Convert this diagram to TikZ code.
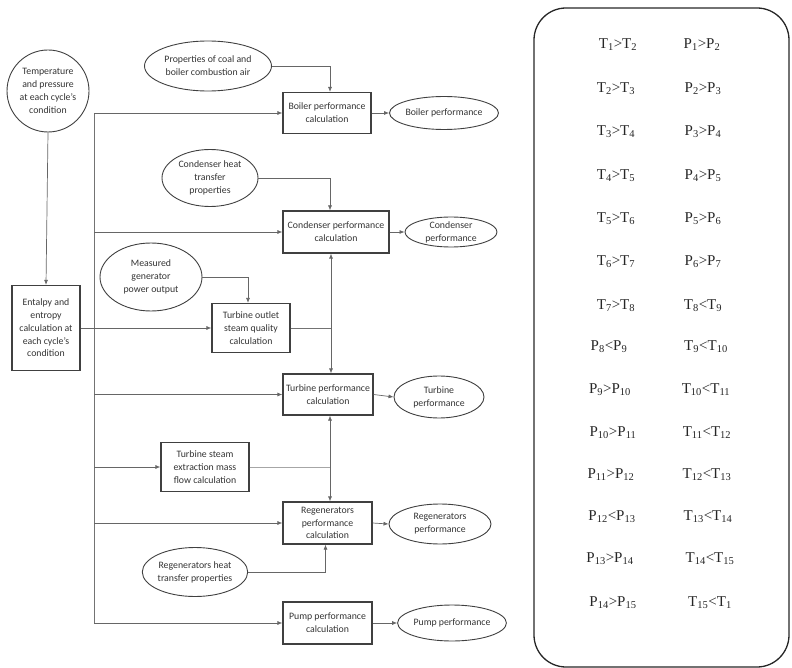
\documentclass[tikz,border=0pt]{standalone}
\usepackage{fontspec}
\setmainfont{Liberation Serif}
\newfontfamily\labfont{Carlito}
\usetikzlibrary{arrows.meta,shapes.geometric}
\begin{document}
\begin{tikzpicture}[x=1pt,y=-1pt,
  lab/.style={font=\labfont\fontsize{9.8}{12.8}\selectfont, text=black!80, align=center, inner sep=1pt},
  boxn/.style={lab, draw=black!75, line width=1.2pt},
  ell/.style={lab, draw=black!75, line width=0.9pt, ellipse, inner sep=0pt},
  arr/.style={draw=black!60, line width=0.7pt, -{Latex[length=5pt,width=4pt]}},
  arrb/.style={draw=black!60, line width=0.7pt, {Latex[length=5pt,width=4pt]}-{Latex[length=5pt,width=4pt]}},
  ln/.style={draw=black!55, line width=0.7pt},
  cmp/.style={font=\fontsize{15}{18}\selectfont, text=black!85, inner sep=0pt}
]
\useasboundingbox (0,0) rectangle (792,668);

% left part
\node[lab, draw=black!75, line width=0.9pt, circle, minimum size=82pt] (tp) at (48,91)
  {Temperature\\and pressure\\at each cycle’s\\condition};
\node[boxn, minimum width=68pt, minimum height=85pt] (ent) at (46,328)
  {Entalpy and\\entropy\\calculation at\\each cycle’s\\condition};

\node[ell, minimum width=127pt, minimum height=50pt] (coal) at (208,66)
  {Properties of coal and\\boiler combustion air};
\node[boxn, minimum width=88pt, minimum height=41pt] (boil) at (327,113)
  {Boiler performance\\calculation};
\node[ell, minimum width=98pt, minimum height=33pt] (boilp) at (444,113)
  {Boiler performance};

\node[ell, minimum width=96pt, minimum height=57pt] (cheat) at (210,178)
  {Condenser heat\\transfer\\properties};
\node[boxn, minimum width=106pt, minimum height=42pt] (cond) at (336,232)
  {Condenser performance\\calculation};
\node[ell, minimum width=92pt, minimum height=30pt] (condp) at (451,232)
  {Condenser\\performance};

\node[ell, minimum width=102pt, minimum height=68pt] (gen) at (151,277)
  {Measured\\generator\\power output};
\node[boxn, minimum width=78pt, minimum height=49pt] (tout) at (251,328)
  {Turbine outlet\\steam quality\\calculation};

\node[boxn, minimum width=90pt, minimum height=41pt] (turb) at (328,394.5)
  {Turbine performance\\calculation};
\node[ell, minimum width=90pt, minimum height=42pt] (turbp) at (439,397)
  {Turbine\\performance};

\node[boxn, minimum width=88pt, minimum height=49pt] (ext) at (205,467)
  {Turbine steam\\extraction mass\\flow calculation};

\node[boxn, minimum width=89pt, minimum height=42pt] (reg) at (327.5,523)
  {Regenerators\\performance\\calculation};
\node[ell, minimum width=102pt, minimum height=40pt] (regp) at (440,524)
  {Regenerators\\performance};
\node[ell, minimum width=100pt, minimum height=49pt] (rheat) at (195,572)
  {Regenerators heat\\transfer properties};

\node[boxn, minimum width=89pt, minimum height=42pt] (pump) at (327.5,623)
  {Pump performance\\calculation};
\node[ell, minimum width=102pt, minimum height=36pt] (pumpp) at (452,623)
  {Pump performance};

% bus and helper coordinates
\coordinate (bus) at (94,0);
\coordinate (vx) at (331,0);
\coordinate (bt) at (94,113);
\coordinate (bb) at (94,623);

\draw[arr] (tp.south) -- (ent.north);
\draw[ln] (bt) -- (bb);
\draw[arr] (bt) -- (boil.west);
\draw[arr] (cond.west -| bus) -- (cond.west);
\draw[arr] (turb.west -| bus) -- (turb.west);
\draw[arr] (ext.west -| bus) -- (ext.west);
\draw[arr] (reg.west -| bus) -- (reg.west);
\draw[arr] (bb) -- (pump.west);
\draw[arr] (ent.east) -- (tout.west);

\draw[arr] (coal.east) -| ([xshift=3pt]boil.north);
\draw[arr] (boil.east) -- (boilp.west);
\draw[arr] (cheat.east) -| ([xshift=-6pt]cond.north);
\draw[arr] (cond.east) -- (condp.west);
\draw[arr] (gen.east) -| ([xshift=-3pt]tout.north);
\draw[arrb] (cond.south -| vx) -- (turb.north -| vx);
\draw[ln] (tout.east) -- (tout.east -| vx);
\draw[arr] (turb.east) -- (turbp.west);
\draw[arrb] ([xshift=-1pt]turb.south -| vx) -- ([xshift=-1pt]reg.north -| vx);
\draw[ln, draw=black!35] (ext.east) -- ([xshift=-1pt]ext.east -| vx);
\draw[arr] (reg.east) -- (regp.west);
\draw[arr] (rheat.east) -| ([xshift=-2pt]reg.south);
\draw[arr] (pump.east) -- (pumpp.west);

% right panel
\node[draw=black!85, line width=1.3pt, rounded corners=32pt, minimum width=255pt, minimum height=659pt, inner sep=0pt] (panel) at (661.5,337.5) {};

\node[cmp] (a1) at (618,45) {T\textsubscript{1}>T\textsubscript{2}};
\node[cmp] (b1) at (702,45) {P\textsubscript{1}>P\textsubscript{2}};
\node[cmp] (a2) at (616,89) {T\textsubscript{2}>T\textsubscript{3}};
\node[cmp] (b2) at (703,89) {P\textsubscript{2}>P\textsubscript{3}};
\node[cmp] (a3) at (616,132) {T\textsubscript{3}>T\textsubscript{4}};
\node[cmp] (b3) at (703,132) {P\textsubscript{3}>P\textsubscript{4}};
\node[cmp] (a4) at (616,176) {T\textsubscript{4}>T\textsubscript{5}};
\node[cmp] (b4) at (703,176) {P\textsubscript{4}>P\textsubscript{5}};
\node[cmp] (a5) at (616,219) {T\textsubscript{5}>T\textsubscript{6}};
\node[cmp] (b5) at (703,219) {P\textsubscript{5}>P\textsubscript{6}};
\node[cmp] (a6) at (616,262) {T\textsubscript{6}>T\textsubscript{7}};
\node[cmp] (b6) at (703,262) {P\textsubscript{6}>P\textsubscript{7}};
\node[cmp] (a7) at (616,306) {T\textsubscript{7}>T\textsubscript{8}};
\node[cmp] (b7) at (703,306) {T\textsubscript{8}<T\textsubscript{9}};
\node[cmp] (a8) at (609,347) {P\textsubscript{8}<P\textsubscript{9}};
\node[cmp] (b8) at (706,347) {T\textsubscript{9}<T\textsubscript{10}};
\node[cmp] (a9) at (610,390) {P\textsubscript{9}>P\textsubscript{10}};
\node[cmp] (b9) at (706,390) {T\textsubscript{10}<T\textsubscript{11}};
\node[cmp] (a10) at (613,433) {P\textsubscript{10}>P\textsubscript{11}};
\node[cmp] (b10) at (707,433) {T\textsubscript{11}<T\textsubscript{12}};
\node[cmp] (a11) at (611,475) {P\textsubscript{11}>P\textsubscript{12}};
\node[cmp] (b11) at (707,475) {T\textsubscript{12}<T\textsubscript{13}};
\node[cmp] (a12) at (612,517) {P\textsubscript{12}<P\textsubscript{13}};
\node[cmp] (b12) at (708,517) {T\textsubscript{13}<T\textsubscript{14}};
\node[cmp] (a13) at (610,559) {P\textsubscript{13}>P\textsubscript{14}};
\node[cmp] (b13) at (710,559) {T\textsubscript{14}<T\textsubscript{15}};
\node[cmp] (a14) at (613,603) {P\textsubscript{14}>P\textsubscript{15}};
\node[cmp] (b14) at (710,603) {T\textsubscript{15}<T\textsubscript{1}};
\end{tikzpicture}
\end{document}
